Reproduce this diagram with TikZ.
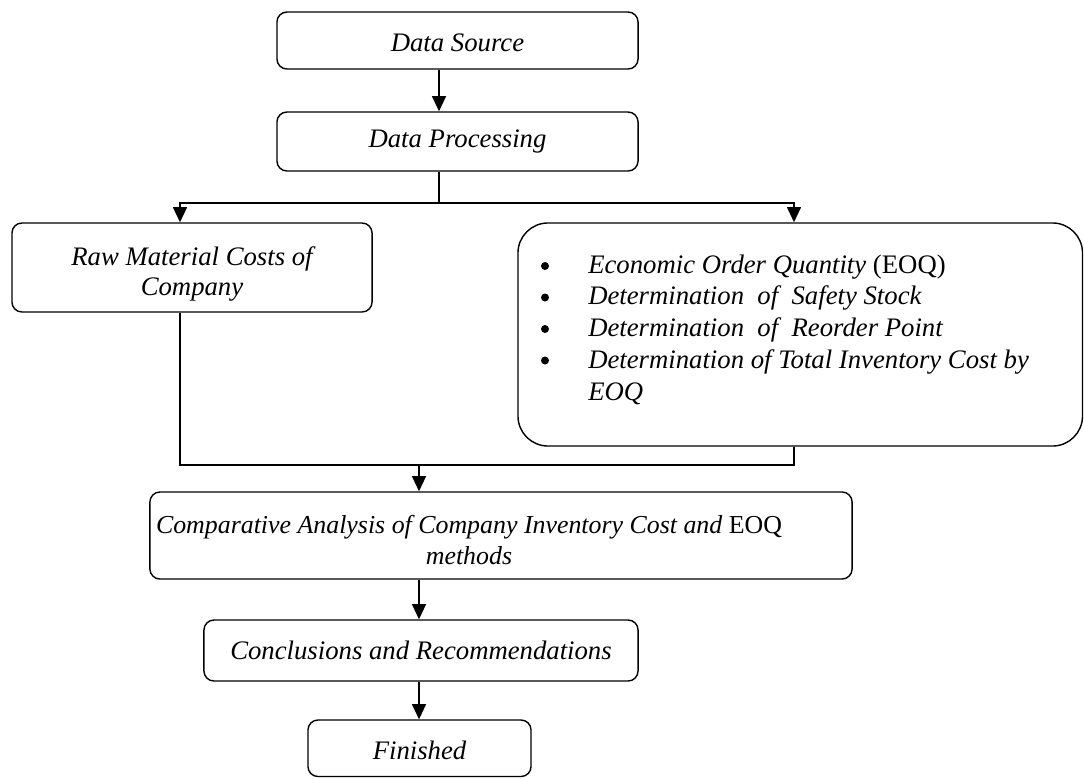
\documentclass[tikz,border=0pt]{standalone}
\usepackage{fontspec}
\setmainfont{Liberation Serif}
\usetikzlibrary{arrows.meta,calc}
\begin{document}
\begin{tikzpicture}[x=0.025cm,y=-0.025cm,
  box/.style={draw,line width=1pt,rounded corners=0.25cm,inner sep=0pt,align=center,
    font=\fontsize{19}{21.5}\selectfont\itshape},
  txt/.style={inner sep=0pt,align=center,font=\fontsize{19}{21.5}\selectfont\itshape},
  bul/.style={circle,fill=black,inner sep=0pt,minimum size=0.2cm},
  conn/.style={line width=1pt},
  arr/.style={conn,-{Triangle[width=0.35cm,length=0.38cm]}}]
\useasboundingbox (0,0) rectangle (1084,778);

% boxes
\node[box,minimum width=9.025cm,minimum height=1.425cm] (ds) at (457.5,40.5) {};
\node[txt] (dstxt) at (457.5,42.5) {Data Source};
\node[box,minimum width=9.025cm,minimum height=1.475cm] (dp) at (457.5,141.5) {Data Processing};
\node[box,minimum width=9cm,minimum height=2.225cm] (raw) at (192,267.5) {};
\node[txt] (rawtxt) at (192,274) {Raw Material Costs of\\Company};
\node[box,rounded corners=0.75cm,minimum width=14.11cm,minimum height=5.575cm] (eoq) at (800.25,334.5) {};
\node[inner sep=0pt,anchor=base west,font=\fontsize{19}{22.6}\selectfont] (eoqtxt) at (588,273) {%
  \begin{tabular}[t]{@{}l@{}}
  \textit{Economic Order Quantity} (EOQ)\\
  \textit{Determination~~of~~Safety Stock}\\
  \textit{Determination~~of~~Reorder Point}\\
  \textit{Determination of Total Inventory Cost by}\\
  \textit{EOQ}
  \end{tabular}};
\node[bul] (b1) at (545,266) {};
\node[bul] (b2) at (545,297.5) {};
\node[bul] (b3) at (545,329) {};
\node[bul] (b4) at (545,360.5) {};
\node[box,minimum width=17.55cm,minimum height=2.175cm] (cmp) at (501,535.5) {};
\node[txt,font=\fontsize{18.4}{21.5}\selectfont\itshape] (cmptxt) at (469,540) {Comparative Analysis of Company Inventory Cost and {\upshape EOQ}\\methods};
\node[box,minimum width=10.85cm,minimum height=1.525cm] (con) at (421,650.5) {Conclusions and Recommendations};
\node[box,minimum width=5.575cm,minimum height=1.4125cm] (fin) at (419.5,748.25) {};
\node[txt] (fintxt) at (419.5,750) {Finished};

% helper coordinates
\coordinate (ax) at (439,0);
\coordinate (br) at (439,203);
\coordinate (rx) at (180,0);
\coordinate (ex) at (794,0);
\coordinate (mg) at (419,465);

% connectors
\draw[arr] (ax |- ds.south) -- (ax |- dp.north);
\draw[conn] (ax |- dp.south) -- (br);
\draw[arr] (br) -| (rx |- raw.north);
\draw[arr] (br) -| (ex |- eoq.north);
\draw[conn] (rx |- raw.south) |- (mg) -| (ex |- eoq.south);
\draw[arr] (mg) -- (mg |- cmp.north);
\draw[arr] (mg |- cmp.south) -- (mg |- con.north);
\draw[arr] (mg |- con.south) -- (mg |- fin.north);
\end{tikzpicture}
\end{document}
